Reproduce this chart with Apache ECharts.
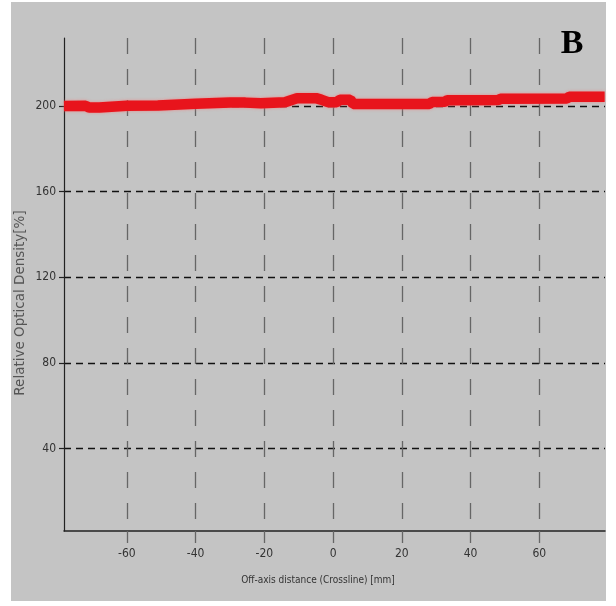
<!DOCTYPE html>
<html><head><meta charset="utf-8">
<script src="https://cdn.jsdelivr.net/npm/echarts@6/dist/echarts.min.js"></script>
<style>html,body{margin:0;padding:0;background:#fff}#c{width:616px;height:606px}</style>
</head><body><div id="c"></div>
<script>
// Off-axis distance (mm)
var xVals = [-78.3, -72, -71, -68, -67.5, -60, -51, -50.5, -40, -39.5, -30, -25.5, -25, -21, -20.5, -14, -12.5, -10.5, -5, -3.5, -1.5, 1, 2, 5, 5.8, 15, 28, 28.8, 32.5, 33.2, 48, 48.7, 68, 68.7, 79];
// Relative optical density (%)
var yVals = [200.0, 200.1, 199.3, 199.3, 200.0, 200.1, 200.2, 201.0, 201.1, 201.7, 201.7, 201.6, 201.2, 201.3, 201.7, 201.8, 202.6, 203.6, 203.7, 203.0, 201.8, 201.8, 202.9, 203.0, 201.0, 200.9, 201.0, 201.9, 202.0, 202.7, 202.8, 203.4, 203.5, 204.3, 204.4];
var xTicks = [-60, -40, -20, 0, 20, 40, 60];
var yTicks = [40, 80, 120, 160, 200];
var xName = 'Off-axis distance (Crossline) [mm]';
var yName = 'Relative Optical Density[%]';
var panelLabel = 'B';

var data = xVals.map(function (x, i) { return [x, yVals[i]]; });
var chart = echarts.init(document.getElementById('c'), null, { renderer: 'canvas' });
var numFont = '"Liberation Sans Narrow","DejaVu Sans Condensed",sans-serif';
chart.setOption({
  backgroundColor: '#ffffff',
  animation: false,
  graphic: [
    { type: 'rect', z: -10, shape: { x: 11, y: 2, width: 595, height: 599 }, style: { fill: '#c4c4c4' } },
    { type: 'text', z: 10, x: 572, y: 44, style: { text: panelLabel, font: 'bold 34px "Liberation Serif", serif', fill: '#000', align: 'center', verticalAlign: 'middle' } },
    { type: 'text', z: 10, x: 318, y: 580, style: { text: xName, font: '10px ' + numFont, fill: '#333', align: 'center', verticalAlign: 'middle' } },
    { type: 'text', z: 10, x: 20, y: 303, rotation: Math.PI / 2, style: { text: yName, font: '13.5px "DejaVu Sans", sans-serif', fill: '#555', align: 'center', verticalAlign: 'middle' } }
  ],
  grid: { left: 64, right: 11, top: 38, bottom: 75, containLabel: false },
  xAxis: {
    type: 'value', min: -78.3, max: 79.1, splitNumber: 8,
    axisLine: { show: true, onZero: false, lineStyle: { color: '#222', width: 1.5 } },
    axisTick: { show: true, length: 12, customValues: xTicks, lineStyle: { color: '#666', width: 1.3 } },
    axisLabel: { customValues: xTicks, margin: 17, fontSize: 12, fontFamily: numFont, color: '#333' },
    splitLine: { show: true, customValues: xTicks, lineStyle: { color: '#666', width: 1.3, type: [16, 15] } }
  },
  yAxis: {
    type: 'value', min: 1.4, max: 231.8,
    axisLine: { show: true, onZero: false, lineStyle: { color: '#222', width: 1.2 } },
    axisTick: { show: true, length: 5, customValues: yTicks, lineStyle: { color: '#222', width: 1.2 } },
    axisLabel: { customValues: yTicks, margin: 8, fontSize: 12, fontFamily: numFont, color: '#333' },
    splitLine: { show: true, customValues: yTicks, lineStyle: { color: '#111', width: 1.3, type: [7, 5] } }
  },
  series: [{
    type: 'line', data: data, showSymbol: false, smooth: false, z: 5,
    lineStyle: { color: '#e8141c', width: 10.5, shadowBlur: 3, shadowColor: 'rgba(255,110,110,0.7)' }
  }]
});
</script></body></html>
